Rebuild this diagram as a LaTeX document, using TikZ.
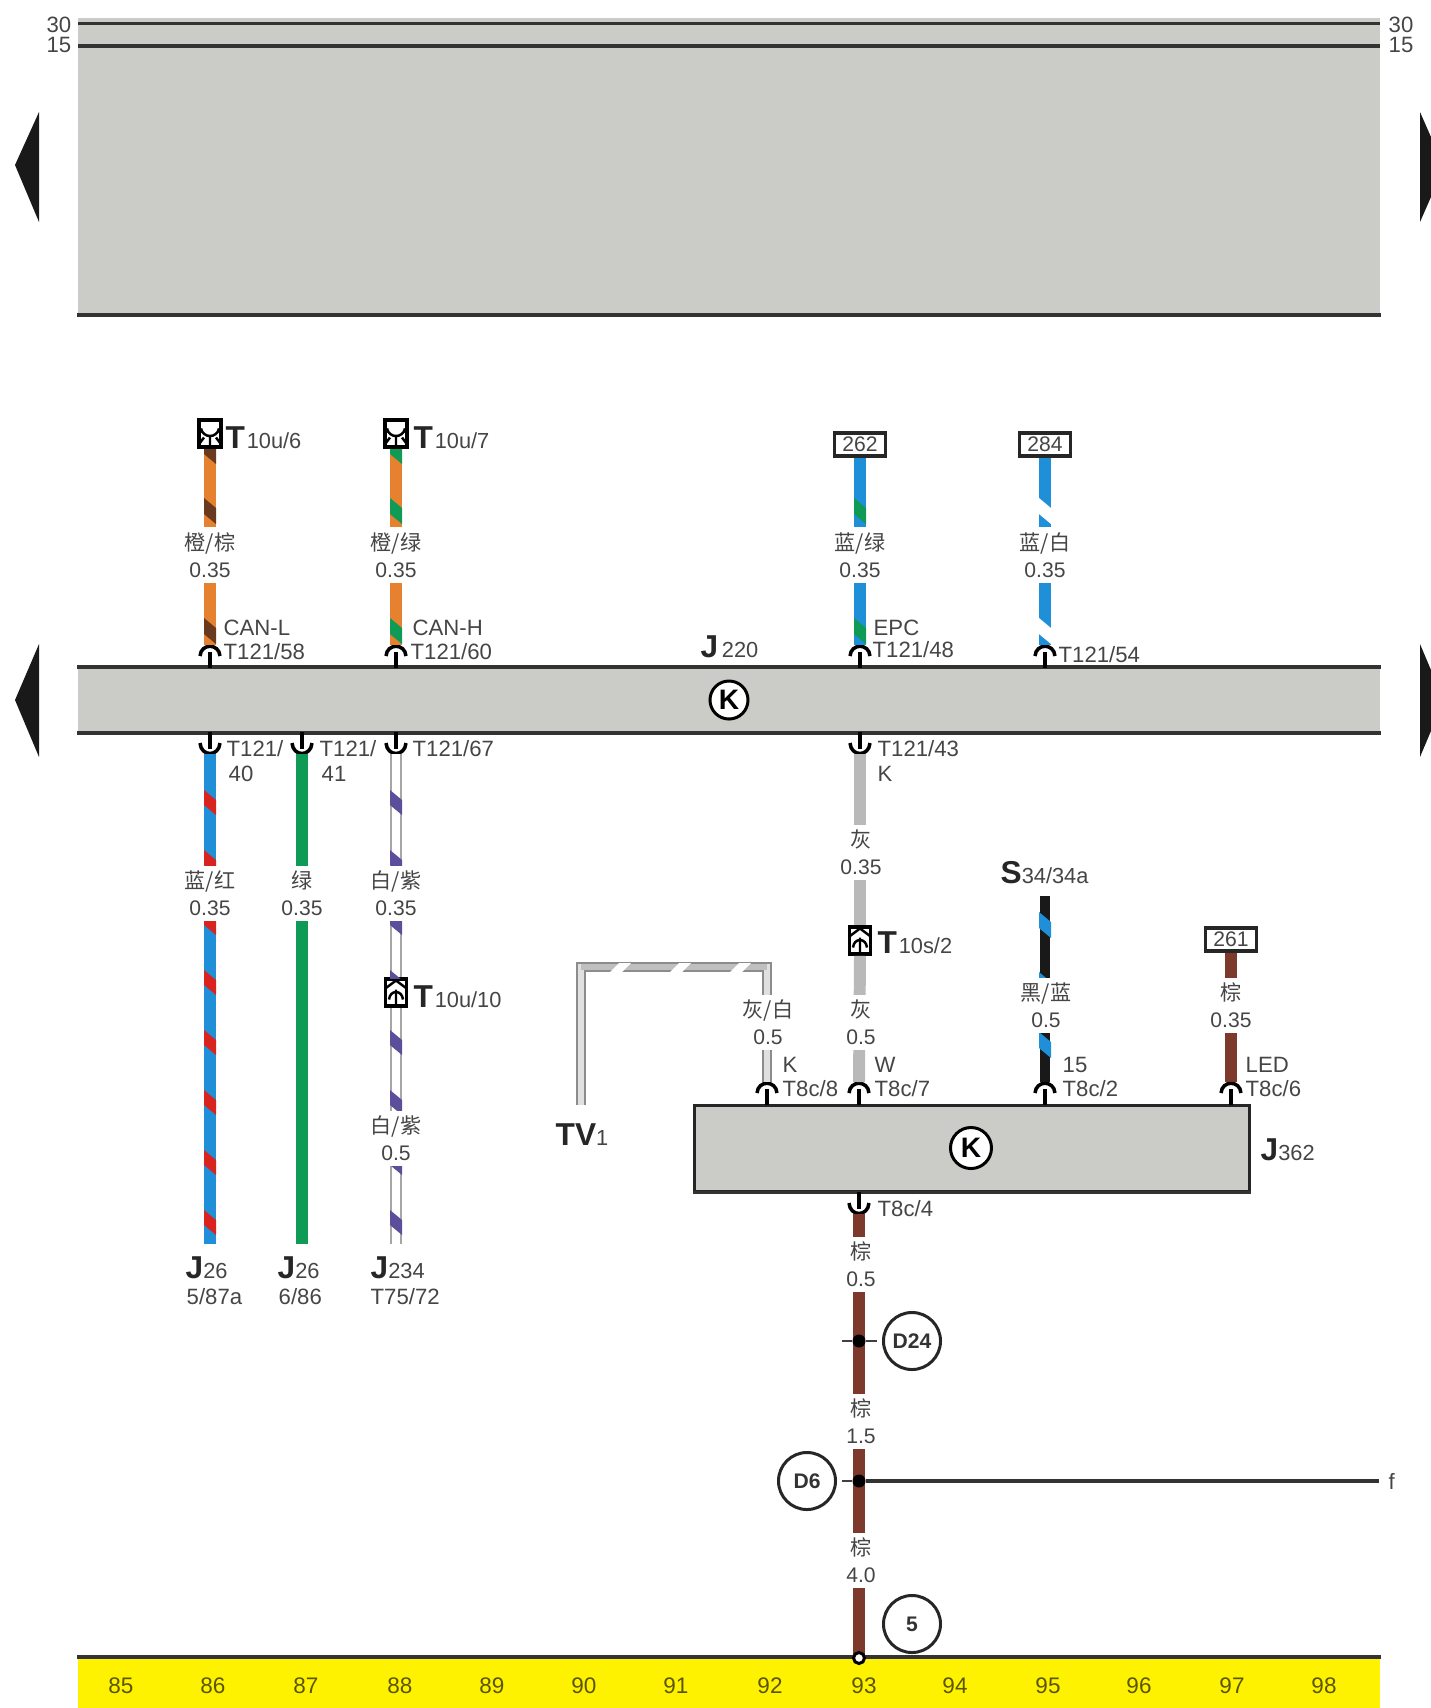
\documentclass[tikz,border=0pt]{standalone}
\usepackage{fontspec}
\setmainfont{Liberation Sans}
\newfontfamily\cjk{Noto Sans CJK SC}
\usepackage{tikz}

\definecolor{panelgray}{HTML}{CBCBC7}
\definecolor{inkgray}{HTML}{454545}
\definecolor{wblue}{HTML}{1F8FD8}
\definecolor{wred}{HTML}{D8231F}
\definecolor{wgreen}{HTML}{0F9A55}
\definecolor{worange}{HTML}{E5812F}
\definecolor{wbrown}{HTML}{7D3A2C}
\definecolor{wdarkbrown}{HTML}{6A3A20}
\definecolor{wpurple}{HTML}{5D4E9C}
\definecolor{wgray}{HTML}{B9B9B9}
\definecolor{gridyellow}{HTML}{FFF200}

\tikzset{
  wire/.style={line width=3.4pt,draw=#1},
  pinline/.style={line width=1pt,draw=black},
  panelbar/.style={fill=panelgray,inner sep=0pt,minimum width=13.02cm},
  edgeline/.style={line width=1.1pt,draw=black!80},
  termbox/.style={draw=black!85,fill=white,line width=1.1pt,minimum width=.51cm,minimum height=.23cm,inner sep=0pt,text=inkgray,font=\fontsize{6}{6}\selectfont},
  plugdown/.style={draw=black,fill=white,line width=1.1pt,minimum width=.22cm,minimum height=.27cm,inner sep=0pt,
    path picture={\draw[line width=.7pt,shift={(path picture bounding box.center)}]
      (-9,-5) .. controls (-7,5) and (7,5) .. (9,-5) (0,3) -- (0,14) (-12,12) -- (-6,4) (12,12) -- (6,4);}},
  plugup/.style={draw=black,fill=white,line width=1.1pt,minimum width=.21cm,minimum height=.27cm,inner sep=0pt,
    path picture={\draw[line width=.7pt,shift={(path picture bounding box.center)}]
      (-12,-3) -- (0,-12) -- (12,-3) (-7,7) .. controls (-6,-3) and (6,-3) .. (7,7) (0,-3) -- (0,14);}},
  wirelabel/.style={fill=white,inner sep=0pt,minimum height=.55cm,align=center,text=inkgray,font=\fontsize{6}{7.6}\selectfont},
  pinlabel/.style={anchor=west,inner sep=0pt,text=inkgray,font=\fontsize{6.3}{6.3}\selectfont},
  partlabel/.style={anchor=west,inner sep=0pt,text=inkgray,font=\fontsize{6.2}{6.2}\selectfont},
  kmark/.style={circle,draw=black,fill=white,line width=.85pt,minimum size=.38cm,inner sep=0pt,font=\fontsize{8}{8}\selectfont\bfseries},
  groundmark/.style={circle,draw=black!85,fill=white,line width=.85pt,minimum size=.57cm,inner sep=0pt,text=black!80,font=\fontsize{6}{6}\selectfont\bfseries},
  splice/.style={circle,fill=black,minimum size=.13cm,inner sep=0pt},
  gridnum/.style={inner sep=0pt,text=black!50!gridyellow!70!black,font=\fontsize{6.4}{6.4}\selectfont}
}
\newcommand{\heavy}[1]{{\fontsize{9}{9}\selectfont\bfseries\color{black!85}#1}}
\newcommand{\pinup}[3]{
  \coordinate (#1) at (#2,#3-23);
  \draw[pinline] (#2,#3) -- (#2,#3-16);
  \draw[pinline] (#2-10,#3-12) .. controls (#2-9,#3-25) and (#2+9,#3-25) .. (#2+10,#3-12);
}
\newcommand{\pindown}[3]{
  \coordinate (#1) at (#2,#3+22);
  \draw[pinline] (#2,#3) -- (#2,#3+17);
  \draw[pinline] (#2-10,#3+11) .. controls (#2-9,#3+25) and (#2+9,#3+25) .. (#2+10,#3+11);
}
\newcommand{\wstripes}[6]{
  \begin{scope}
  \clip (#1-6,#2) rectangle (#1+6,#3);
  \foreach \y in {#4} \fill[#5] (#1-6,\y) -- (#1+6,\y+10) -- (#1+6,\y+10+#6) -- (#1-6,\y+#6) -- cycle;
  \end{scope}
}

\begin{document}
\begin{tikzpicture}[x=0.01cm,y=-0.01cm]
\useasboundingbox (0,0) rectangle (1431,1708);

%% PANELS
\node[panelbar, minimum height=2.96cm] (fusepanel) at (729,166) {};
\draw[edgeline] (78,23.5) -- (1380,23.5);
\draw[edgeline] (78,46) -- (1380,46);
\draw[edgeline] (fusepanel.south west) -- (fusepanel.south east);

\node[panelbar, minimum height=0.64cm] (j220) at (729,700) {};
\draw[edgeline] (j220.north west) -- (j220.north east);
\draw[edgeline] (j220.south west) -- (j220.south east);
\node[kmark] (kj220) at (729,700) {K};

\node[draw=black!85, line width=.85pt, fill=panelgray, minimum width=5.55cm, minimum height=0.85cm, inner sep=0pt] (j362) at (972,1148.5) {};
\draw[edgeline] (j362.south west) -- (j362.south east);
\node[kmark, minimum size=.41cm] (kj362) at (971,1148) {K};

\fill[black!90] (39,112) -- (15,165) -- (39,222) -- cycle;
\fill[black!90] (39,644) -- (15,700) -- (39,757) -- cycle;
\fill[black!90] (1420,112) -- (1431,137) -- (1431,197) -- (1420,222) -- cycle;
\fill[black!90] (1420,644) -- (1431,670) -- (1431,731) -- (1420,757) -- cycle;

\node[pinlabel, anchor=east] (n30l) at (72,25) {30};
\node[pinlabel, anchor=east] (n15l) at (72,45) {15};
\node[pinlabel] (n30r) at (1388,25) {30};
\node[pinlabel] (n15r) at (1388,45) {15};

%% GRID
\node[fill=gridyellow, minimum width=13.02cm, minimum height=0.5cm, inner sep=0pt] (grid) at (729,1683) {};
\draw[edgeline] (grid.north west) -- (grid.north east);
\foreach \n/\x in {85/121,86/213,87/306,88/400,89/492,90/584,91/676,92/770,93/864,94/955,95/1048,96/1139,97/1232,98/1324}
  \node[gridnum] (g\n) at (\x,1686) {\n};

%% CONNECTOR BOXES
\node[plugdown] (t10u6) at (210,433.5) {};
\node[plugdown] (t10u7) at (396,433.5) {};
\node[plugup] (t10u10) at (396,992.5) {};
\node[plugup] (t10s2) at (860,940.5) {};
\node[termbox] (b262) at (860,444.5) {262};
\node[termbox] (b284) at (1045,444.5) {284};
\node[termbox] (b261) at (1231,939.5) {261};
\coordinate (s34) at (1045,896);

%% PINS
\pinup{c58}{210}{668}
\pinup{c60}{396}{668}
\pinup{c48}{860}{668}
\pinup{c54}{1045}{668}
\pindown{c40}{210}{732}
\pindown{c41}{302}{732}
\pindown{c67}{396}{732}
\pindown{c43}{860}{732}
\pinup{c8}{767}{1105}
\pinup{c7}{859}{1105}
\pinup{c2}{1045}{1105}
\pinup{c6}{1231}{1105}
\pindown{c4}{859}{1192}

\coordinate (w40end) at (210,1244);
\coordinate (w41end) at (302,1244);
\coordinate (w67end) at (396,1244);
\coordinate (tvstart) at (581,1105);
\coordinate (tvleft) at (581,967);
\coordinate (tvright) at (767,967);

%% TOP WIRES
\draw[wire=worange] (t10u6.south) -- (c58);
\wstripes{210}{449}{645}{438,498,618}{wdarkbrown}{16}
\draw[wire=worange] (t10u7.south) -- (c60);
\wstripes{396}{449}{645}{438,498,618}{wgreen}{16}
\draw[wire=wblue] (b262.south) -- (c48);
\wstripes{860}{458}{645}{498,618}{wgreen}{16}
\draw[wire=wblue] (b284.south) -- (c54);
\wstripes{1045}{458}{645}{498,618}{white}{16}

%% BOTTOM WIRES
\draw[wire=wblue] (c40) -- (w40end);
\wstripes{210}{754}{1244}{790,850,910,970,1030,1090,1150,1210}{wred}{15}
\draw[wire=wgreen] (c41) -- (w41end);
\draw[wire=black!35] (c67) -- (t10u10.north);
\draw[wire=black!35] (t10u10.south) -- (w67end);
\draw[line width=2pt, white, xshift=0.01cm] (c67) -- (t10u10.north);
\draw[line width=2pt, white, xshift=0.01cm] (t10u10.south) -- (w67end);
\wstripes{396}{754}{978}{790,850,910,970}{wpurple}{15}
\wstripes{396}{1007}{1244}{1030,1090,1150,1210}{wpurple}{15}
\draw[wire=wgray] (c43) -- (t10s2.north);
\draw[wire=wgray] (t10s2.south) -- (c7);

%% TV WIRE
\draw[line width=3.1pt, black!45, line join=miter] (tvstart) -- (tvleft) -- (tvright) -- (c8);
\draw[line width=1.7pt, black!12, line join=miter] (tvstart) -- (tvleft) -- (tvright) -- (c8);
\draw[line width=1.7pt, black!25] (tvleft) -- (tvright);
\foreach \x in {610,670,730}
  \fill[white] (\x,972) -- (\x+9,963) -- (\x+21,963) -- (\x+12,972) -- cycle;

%% J362 WIRES
\draw[wire=black!90, line width=2.9pt] (s34) -- (c2);
\wstripes{1045}{896}{1082}{912,972,1032}{wblue}{16}
\draw[wire=wbrown] (b261.south) -- (c6);
\draw[wire=wbrown] (c4) -- (grid.north -| c4);

%% SPLICES
\node[splice] (d24dot) at (859,1341) {};
\node[splice] (d6dot) at (859,1481) {};
\node[groundmark] (d24) at (912,1341) {D24};
\node[groundmark] (d6) at (807,1481) {D6};
\node[groundmark] (gnd5) at (912,1624) {5};
\coordinate (d24tick) at (842,1341);
\coordinate (d24end) at (877,1341);
\coordinate (d6tick) at (842,1481);
\coordinate (fend) at (1379,1481);
\draw[line width=.5pt, black!75] (d24tick) -- (d24dot) -- (d24end);
\draw[line width=.5pt, black!75] (d6tick) -- (d6dot);
\draw[line width=.9pt, black!80] (d6dot) -- (fend);
\node[circle, draw=black, fill=white, line width=.85pt, minimum size=.11cm, inner sep=0pt] (gnddot) at (859,1658) {};

%% WIRE LABELS
\node[wirelabel] (l58) at (210,555) {{\cjk 橙/棕}\\0.35};
\node[wirelabel] (l60) at (396,555) {{\cjk 橙/绿}\\0.35};
\node[wirelabel] (l48) at (860,555) {{\cjk 蓝/绿}\\0.35};
\node[wirelabel] (l54) at (1045,555) {{\cjk 蓝/白}\\0.35};
\node[wirelabel] (l40) at (210,893) {{\cjk 蓝/红}\\0.35};
\node[wirelabel] (l41) at (302,893) {{\cjk 绿}\\0.35};
\node[wirelabel] (l67) at (396,893) {{\cjk 白/紫}\\0.35};
\node[wirelabel] (l67b) at (396,1138) {{\cjk 白/紫}\\0.5};
\node[wirelabel] (l43) at (861,852) {{\cjk 灰}\\0.35};
\node[wirelabel] (l7) at (861,1022) {{\cjk 灰}\\0.5};
\node[wirelabel] (l8) at (768,1022) {{\cjk 灰/白}\\0.5};
\node[wirelabel] (l2) at (1046,1005) {{\cjk 黑/蓝}\\0.5};
\node[wirelabel] (l6) at (1231,1005) {{\cjk 棕}\\0.35};
\node[wirelabel] (l4) at (861,1264) {{\cjk 棕}\\0.5};
\node[wirelabel] (l15) at (861,1421) {{\cjk 棕}\\1.5};
\node[wirelabel] (l40mm) at (861,1560) {{\cjk 棕}\\4.0};

%% PIN LABELS
\node[pinlabel] (tcanl) at (223,628) {CAN-L};
\node[pinlabel] (t58) at (223,652) {T121/58};
\node[pinlabel] (tcanh) at (412,628) {CAN-H};
\node[pinlabel] (t60) at (410,652) {T121/60};
\node[pinlabel] (tepc) at (873,628) {EPC};
\node[pinlabel] (t48) at (872,650) {T121/48};
\node[pinlabel] (t54) at (1058,655) {T121/54};
\node[pinlabel] (t40) at (226,749) {T121/};
\node[pinlabel] (t40b) at (228,774) {40};
\node[pinlabel] (t41) at (319,749) {T121/};
\node[pinlabel] (t41b) at (321,774) {41};
\node[pinlabel] (t67) at (412,749) {T121/67};
\node[pinlabel] (t43) at (877,749) {T121/43};
\node[pinlabel] (t43k) at (877,774) {K};
\node[pinlabel] (t8k) at (782,1065) {K};
\node[pinlabel] (t8) at (782,1089) {T8c/8};
\node[pinlabel] (t7w) at (874,1065) {W};
\node[pinlabel] (t7) at (874,1089) {T8c/7};
\node[pinlabel] (t215) at (1062,1065) {15};
\node[pinlabel] (t2) at (1062,1089) {T8c/2};
\node[pinlabel] (t6led) at (1245,1065) {LED};
\node[pinlabel] (t6) at (1245,1089) {T8c/6};
\node[pinlabel] (t4) at (877,1209) {T8c/4};
\node[pinlabel] (tf) at (1388,1481) {f};

%% PART LABELS
\node[partlabel] (lt10u6) at (225,438) {\heavy{T}\hspace{.5pt}10u/6};
\node[partlabel] (lt10u7) at (413,438) {\heavy{T}\hspace{.5pt}10u/7};
\node[partlabel] (lt10u10) at (413,997) {\heavy{T}\hspace{.5pt}10u/10};
\node[partlabel] (lt10s2) at (877,943) {\heavy{T}\hspace{.5pt}10s/2};
\node[partlabel] (lj220) at (700,647) {\heavy{J}\,220};
\node[partlabel] (ls34) at (1000,873) {\heavy{S}34/34a};
\node[partlabel] (ltv1) at (555,1135) {\heavy{TV}1};
\node[partlabel] (lj362) at (1260,1150) {\heavy{J}362};
\node[partlabel] (lj26a) at (185,1268) {\heavy{J}26};
\node[partlabel] (lj26b) at (277,1268) {\heavy{J}26};
\node[partlabel] (lj234) at (370,1268) {\heavy{J}234};
\node[pinlabel] (lpa) at (186,1297) {5/87a};
\node[pinlabel] (lpb) at (278,1297) {6/86};
\node[pinlabel] (lpc) at (370,1297) {T75/72};

\end{tikzpicture}
\end{document}
